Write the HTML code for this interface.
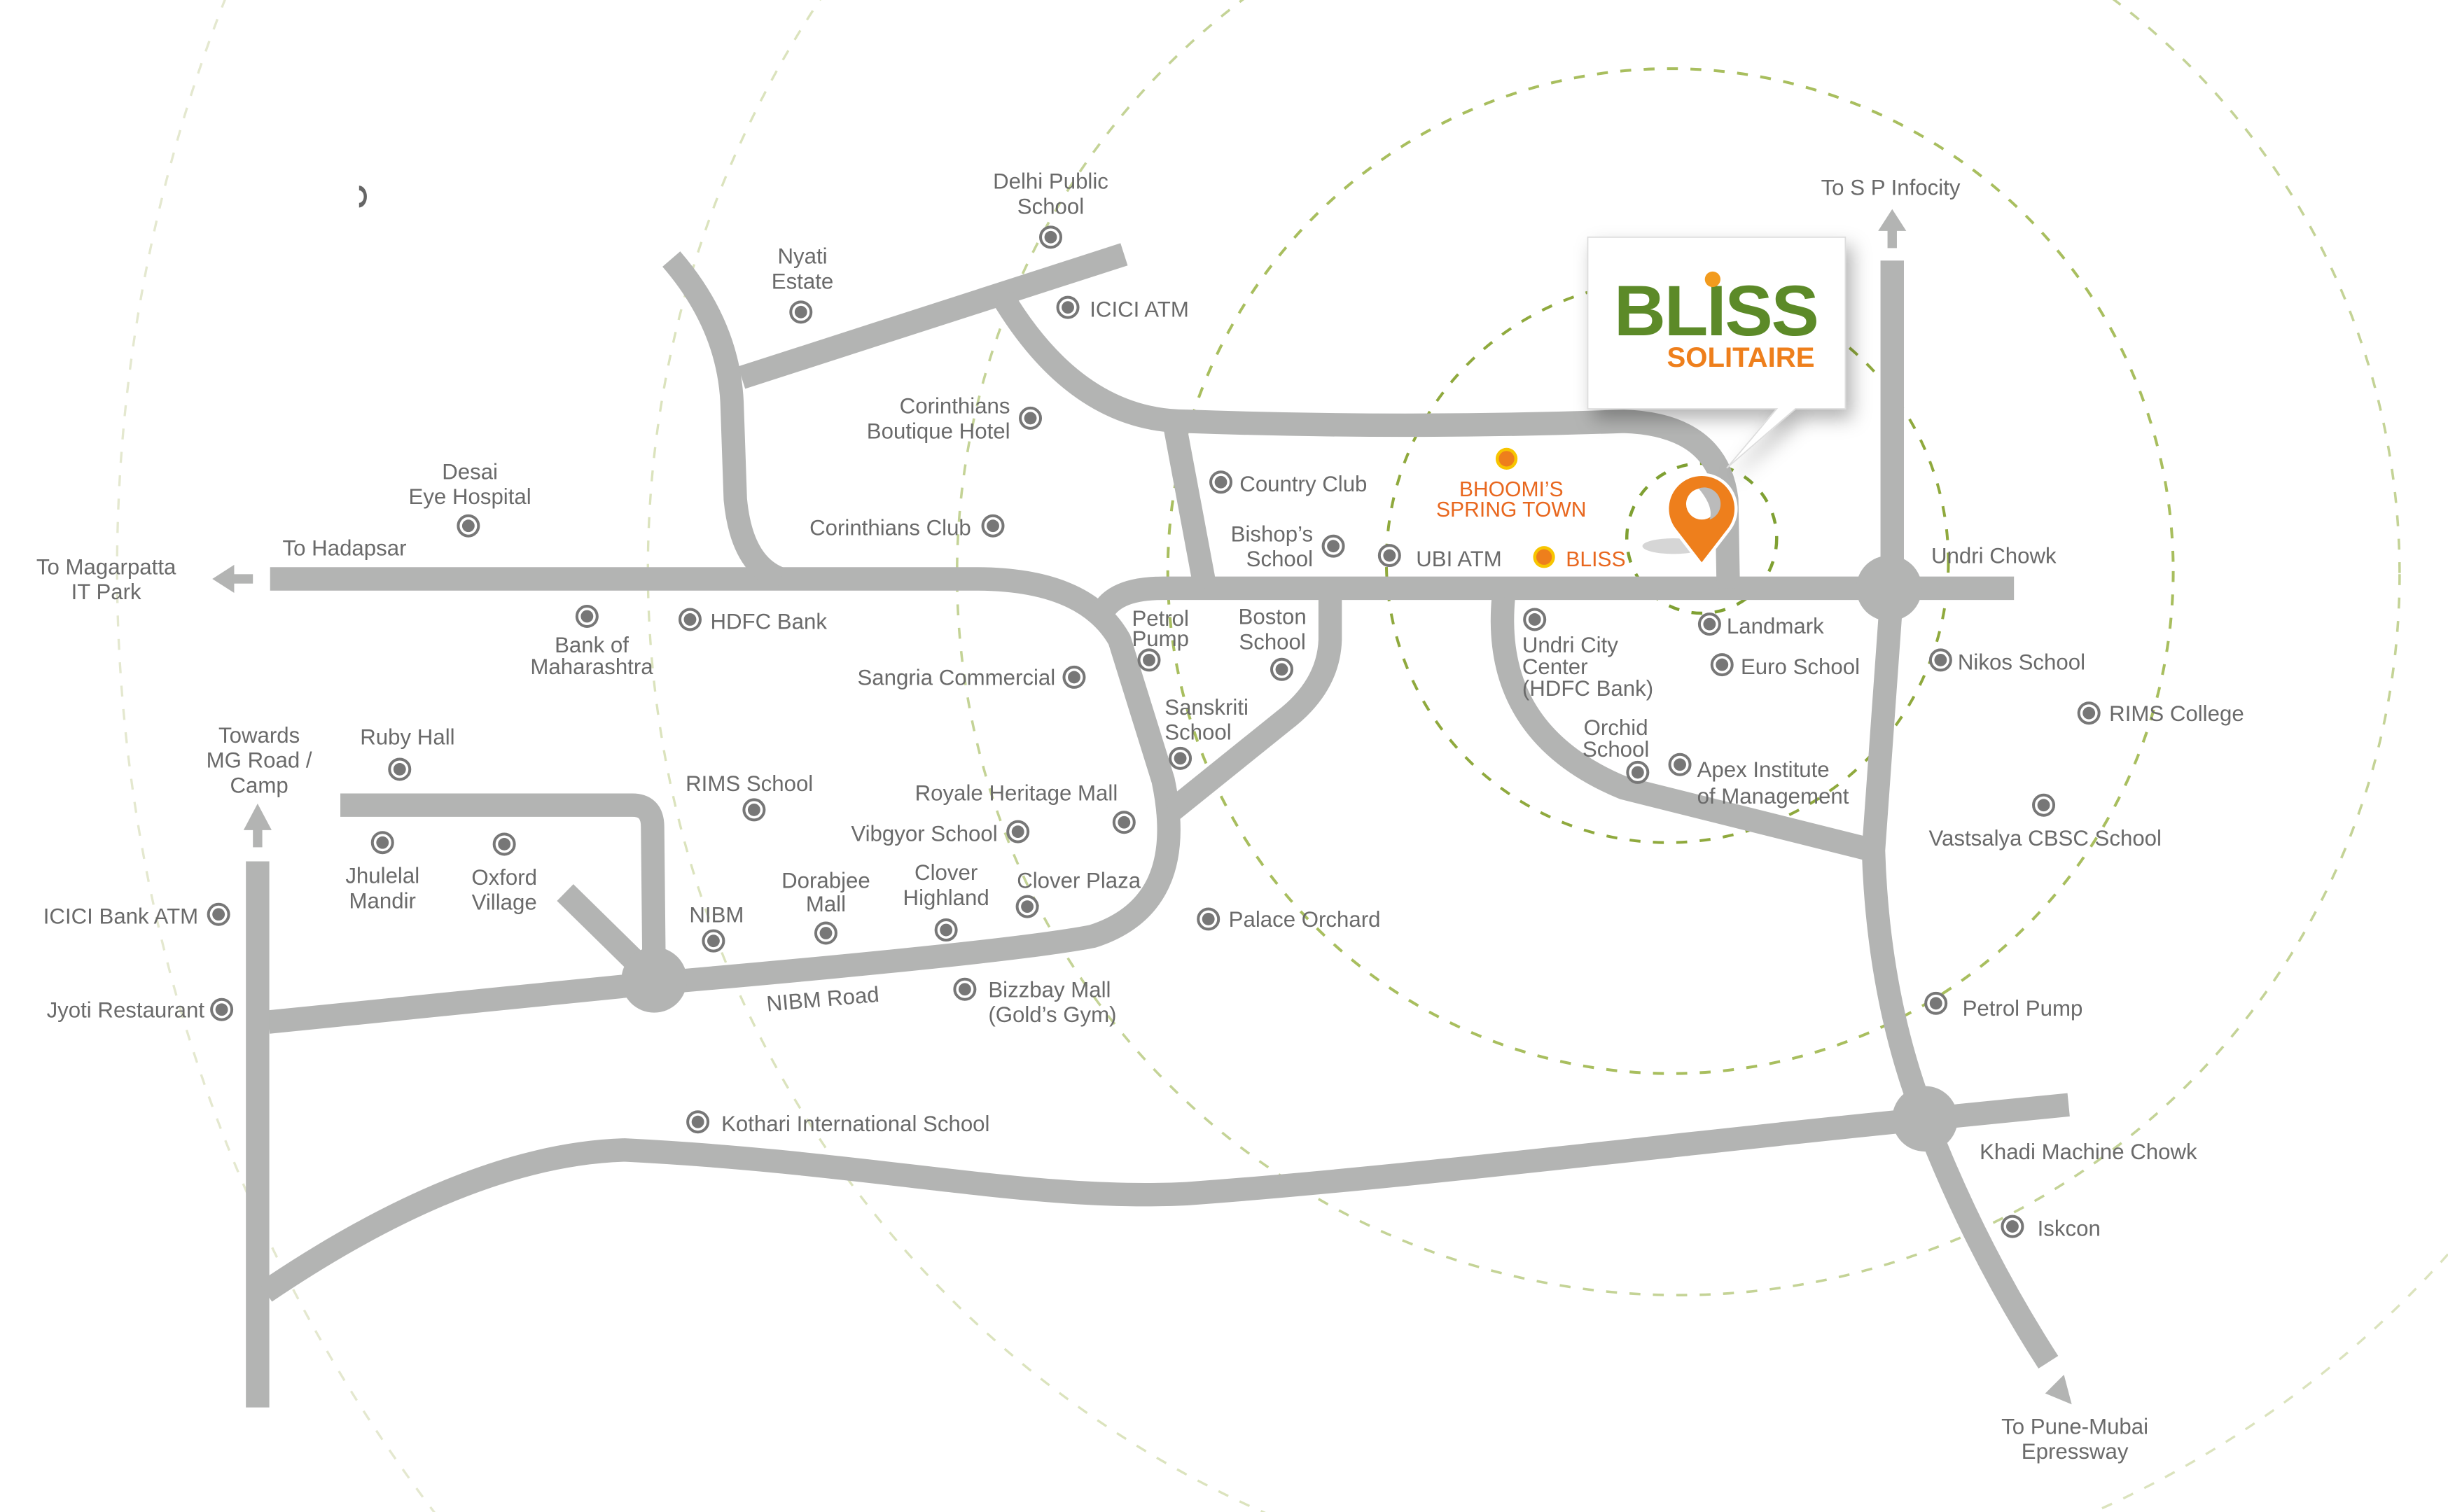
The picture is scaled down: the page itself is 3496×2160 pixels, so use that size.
<!DOCTYPE html>
<html><head><meta charset="utf-8">
<style>
html,body{margin:0;padding:0;background:#fff;width:3496px;height:2160px;overflow:hidden;}
svg{display:block;}
text{font-family:"Liberation Sans Narrow","Liberation Sans",sans-serif;font-size:14px;fill:#6a6a6a;}
.o{fill:#e8671e;font-size:13.5px;}
</style></head><body>
<svg width="3496" height="2160" viewBox="0 0 1568 969" preserveAspectRatio="none" xmlns="http://www.w3.org/2000/svg">
<defs>
<g id="m"><circle r="6.5" fill="#fff" stroke="#777" stroke-width="1.8"/><circle r="4" fill="#777"/></g>
<g id="y"><circle r="7" fill="#f7c500"/><circle r="5" fill="#ee7f1c"/></g>
<filter id="sh" x="-20%" y="-20%" width="150%" height="150%"><feDropShadow dx="4" dy="6" stdDeviation="6" flood-color="#000" flood-opacity="0.3"/></filter>
</defs>
<g fill="none" stroke-dasharray="7 8">
<circle cx="1075" cy="365" r="1000" stroke="#e4e8cf" stroke-width="1.5"/>
<circle cx="1075" cy="365" r="660" stroke="#dbe3bd" stroke-width="1.5"/>
<circle cx="1075" cy="368" r="462" stroke="#c4d396" stroke-width="1.6"/>
<circle cx="1070" cy="366" r="322" stroke="#a8be5e" stroke-width="1.8"/>
<circle cx="1068" cy="360" r="180" stroke="#8fa93d" stroke-width="1.8"/>
<circle cx="1090" cy="345" r="48" stroke="#7fa032" stroke-width="2"/>
</g>
<g fill="none" stroke="#b3b4b3" stroke-width="15" stroke-linejoin="round">
<path d="M173,371 L625,371 Q695,371 717,410 L745,500 Q762,580 700,600 Q650,610 420,630 L172,655"/>
<path d="M705,395 Q712,377 745,377 L1290,377"/>
<path d="M430,166 Q468,210 469,262 L471,320 Q475,362 500,371"/>
<path d="M475,242 L720,163"/>
<path d="M642,190 Q690,270 760,270 Q900,275 1040,270 Q1100,272 1106,320 L1107,377"/>
<path d="M752,270 L772,377"/>
<path d="M852,377 L852,410 Q851,440 822,462 L750,520"/>
<path d="M218,516 L405,516 Q418,516 418,530 L419,628"/>
<path d="M362,572 L419,628"/>
<path d="M165,552 L165,902"/>
<path d="M170,828 Q300,740 400,737 C560,745 660,770 760,765 C900,755 1100,730 1235,717 L1325,708"/>
<path d="M1212,167 L1212,377 L1200,545 Q1203,640 1233,717 Q1265,800 1312,873"/>
<path d="M963,383 Q955,470 1040,505 L1200,545"/>
</g>
<g fill="#b3b4b3">
<circle cx="1210" cy="377" r="21"/>
<circle cx="419" cy="628" r="21"/>
<circle cx="1233" cy="717" r="21"/>
<polygon points="1212,134 1203,148 1221,148"/><rect x="1209" y="147" width="6" height="12"/>
<polygon points="165,515 156,532 174,532"/><rect x="162" y="531" width="6" height="12"/>
<polygon points="136,371 150,362 150,380"/><rect x="149" y="368" width="13" height="6"/>
<polygon points="1327,900 1310,893 1322,881"/>
</g>
<path d="M230,119 a5,7 0 0 1 0,14 l0,-3 a3,4 0 0 0 0,-8z" fill="#666"/>
<g>
<use href="#m" x="673" y="152"/><use href="#m" x="513" y="200"/><use href="#m" x="684" y="197"/>
<use href="#m" x="660" y="268"/><use href="#m" x="300" y="337"/><use href="#m" x="636" y="337"/>
<use href="#m" x="376" y="395"/><use href="#m" x="442" y="397"/><use href="#m" x="688" y="434"/>
<use href="#m" x="782" y="309"/><use href="#m" x="854" y="350"/><use href="#m" x="890" y="356"/>
<use href="#m" x="736" y="423"/><use href="#m" x="821" y="429"/><use href="#m" x="756" y="486"/>
<use href="#m" x="983" y="397"/><use href="#m" x="1095" y="400"/><use href="#m" x="1103" y="426"/>
<use href="#m" x="1049" y="495"/><use href="#m" x="1076" y="490"/>
<use href="#m" x="1243" y="423"/><use href="#m" x="1338" y="457"/><use href="#m" x="1309" y="516"/>
<use href="#m" x="1240" y="643"/><use href="#m" x="1289" y="786"/>
<use href="#m" x="256" y="493"/><use href="#m" x="245" y="540"/><use href="#m" x="323" y="541"/>
<use href="#m" x="140" y="586"/><use href="#m" x="142" y="647"/>
<use href="#m" x="483" y="519"/><use href="#m" x="652" y="533"/><use href="#m" x="720" y="527"/>
<use href="#m" x="457" y="603"/><use href="#m" x="529" y="598"/><use href="#m" x="606" y="596"/>
<use href="#m" x="658" y="581"/><use href="#m" x="774" y="589"/><use href="#m" x="618" y="634"/>
<use href="#m" x="447" y="719"/>
<use href="#y" x="965" y="294"/><use href="#y" x="989" y="357"/>
</g>
<g>
<text x="673" y="121" text-anchor="middle">Delhi Public</text><text x="673" y="137" text-anchor="middle">School</text>
<text x="514" y="169" text-anchor="middle">Nyati</text><text x="514" y="185" text-anchor="middle">Estate</text>
<text x="698" y="203">ICICI ATM</text>
<text x="647" y="265" text-anchor="end">Corinthians</text><text x="647" y="281" text-anchor="end">Boutique Hotel</text>
<text x="301" y="307" text-anchor="middle">Desai</text><text x="301" y="323" text-anchor="middle">Eye Hospital</text>
<text x="622" y="343" text-anchor="end">Corinthians Club</text>
<text x="181" y="356">To Hadapsar</text>
<text x="68" y="368" text-anchor="middle">To Magarpatta</text><text x="68" y="384" text-anchor="middle">IT Park</text>
<text x="379" y="418" text-anchor="middle">Bank of</text><text x="379" y="432" text-anchor="middle">Maharashtra</text>
<text x="455" y="403">HDFC Bank</text>
<text x="676" y="439" text-anchor="end">Sangria Commercial</text>
<text x="794" y="315">Country Club</text>
<text x="841" y="347" text-anchor="end">Bishop’s</text><text x="841" y="363" text-anchor="end">School</text>
<text x="907" y="363">UBI ATM</text>
<text class="o" x="968" y="318" text-anchor="middle">BHOOMI’S</text><text class="o" x="968" y="331" text-anchor="middle">SPRING TOWN</text>
<text class="o" x="1003" y="363">BLISS</text>
<text x="725" y="401">Petrol</text><text x="725" y="414">Pump</text>
<text x="815" y="400" text-anchor="middle">Boston</text><text x="815" y="416" text-anchor="middle">School</text>
<text x="746" y="458">Sanskriti</text><text x="746" y="474">School</text>
<text x="975" y="418">Undri City</text><text x="975" y="432">Center</text><text x="975" y="446">(HDFC Bank)</text>
<text x="1106" y="406">Landmark</text>
<text x="1115" y="432">Euro School</text>
<text x="1035" y="471" text-anchor="middle">Orchid</text><text x="1035" y="485" text-anchor="middle">School</text>
<text x="1087" y="498">Apex Institute</text><text x="1087" y="515">of Management</text>
<text x="1211" y="125" text-anchor="middle">To S P Infocity</text>
<text x="1237" y="361">Undri Chowk</text>
<text x="1254" y="429">Nikos School</text>
<text x="1351" y="462">RIMS College</text>
<text x="1310" y="542" text-anchor="middle">Vastsalya CBSC School</text>
<text x="1257" y="651">Petrol Pump</text>
<text x="1268" y="743">Khadi Machine Chowk</text>
<text x="1305" y="792">Iskcon</text>
<text x="1329" y="919" text-anchor="middle">To Pune-Mubai</text><text x="1329" y="935" text-anchor="middle">Epressway</text>
<text x="166" y="476" text-anchor="middle">Towards</text><text x="166" y="492" text-anchor="middle">MG Road /</text><text x="166" y="508" text-anchor="middle">Camp</text>
<text x="261" y="477" text-anchor="middle">Ruby Hall</text>
<text x="245" y="566" text-anchor="middle">Jhulelal</text><text x="245" y="582" text-anchor="middle">Mandir</text>
<text x="323" y="567" text-anchor="middle">Oxford</text><text x="323" y="583" text-anchor="middle">Village</text>
<text x="127" y="592" text-anchor="end">ICICI Bank ATM</text>
<text x="131" y="652" text-anchor="end">Jyoti Restaurant</text>
<text x="480" y="507" text-anchor="middle">RIMS School</text>
<text x="651" y="513" text-anchor="middle">Royale Heritage Mall</text>
<text x="639" y="539" text-anchor="end">Vibgyor School</text>
<text x="459" y="591" text-anchor="middle">NIBM</text>
<text x="529" y="569" text-anchor="middle">Dorabjee</text><text x="529" y="584" text-anchor="middle">Mall</text>
<text x="606" y="564" text-anchor="middle">Clover</text><text x="606" y="580" text-anchor="middle">Highland</text>
<text x="691" y="569" text-anchor="middle">Clover Plaza</text>
<text x="787" y="594">Palace Orchard</text>
<text x="527" y="645" text-anchor="middle" transform="rotate(-5 527 640)">NIBM Road</text>
<text x="633" y="639">Bizzbay Mall</text><text x="633" y="655">(Gold’s Gym)</text>
<text x="462" y="725">Kothari International  School</text>
</g>
<g filter="url(#sh)">
<path d="M1017,152 L1182,152 L1182,262 L1150,262 L1106,300 L1138,262 L1017,262 Z" fill="#fff" stroke="#ddd" stroke-width="0.8"/>
</g>
<text x="1099" y="215" text-anchor="middle" style="font-family:'Liberation Sans',sans-serif;font-weight:bold;font-size:46px;fill:#5c8a28;letter-spacing:-1px">BLISS</text>
<circle cx="1097" cy="179" r="5" fill="#f29b1e"/>
<text x="1115" y="235" text-anchor="middle" style="font-family:'Liberation Sans',sans-serif;font-weight:bold;font-size:18px;fill:#ee7f1c">SOLITAIRE</text>
<ellipse cx="1072" cy="350" rx="20" ry="5" fill="#bbb" opacity="0.6"/>
<path d="M1090,362 L1073,340 A22,22 0 1 1 1107,340 Z" fill="#ee7f1c" stroke="#fff" stroke-width="2"/>
<circle cx="1090" cy="323" r="10" fill="#fff"/>
<path d="M1088,313 Q1098,325 1095,333 A10,10 0 0 0 1088,313Z" fill="#bbb"/>
</svg>
</body></html>
